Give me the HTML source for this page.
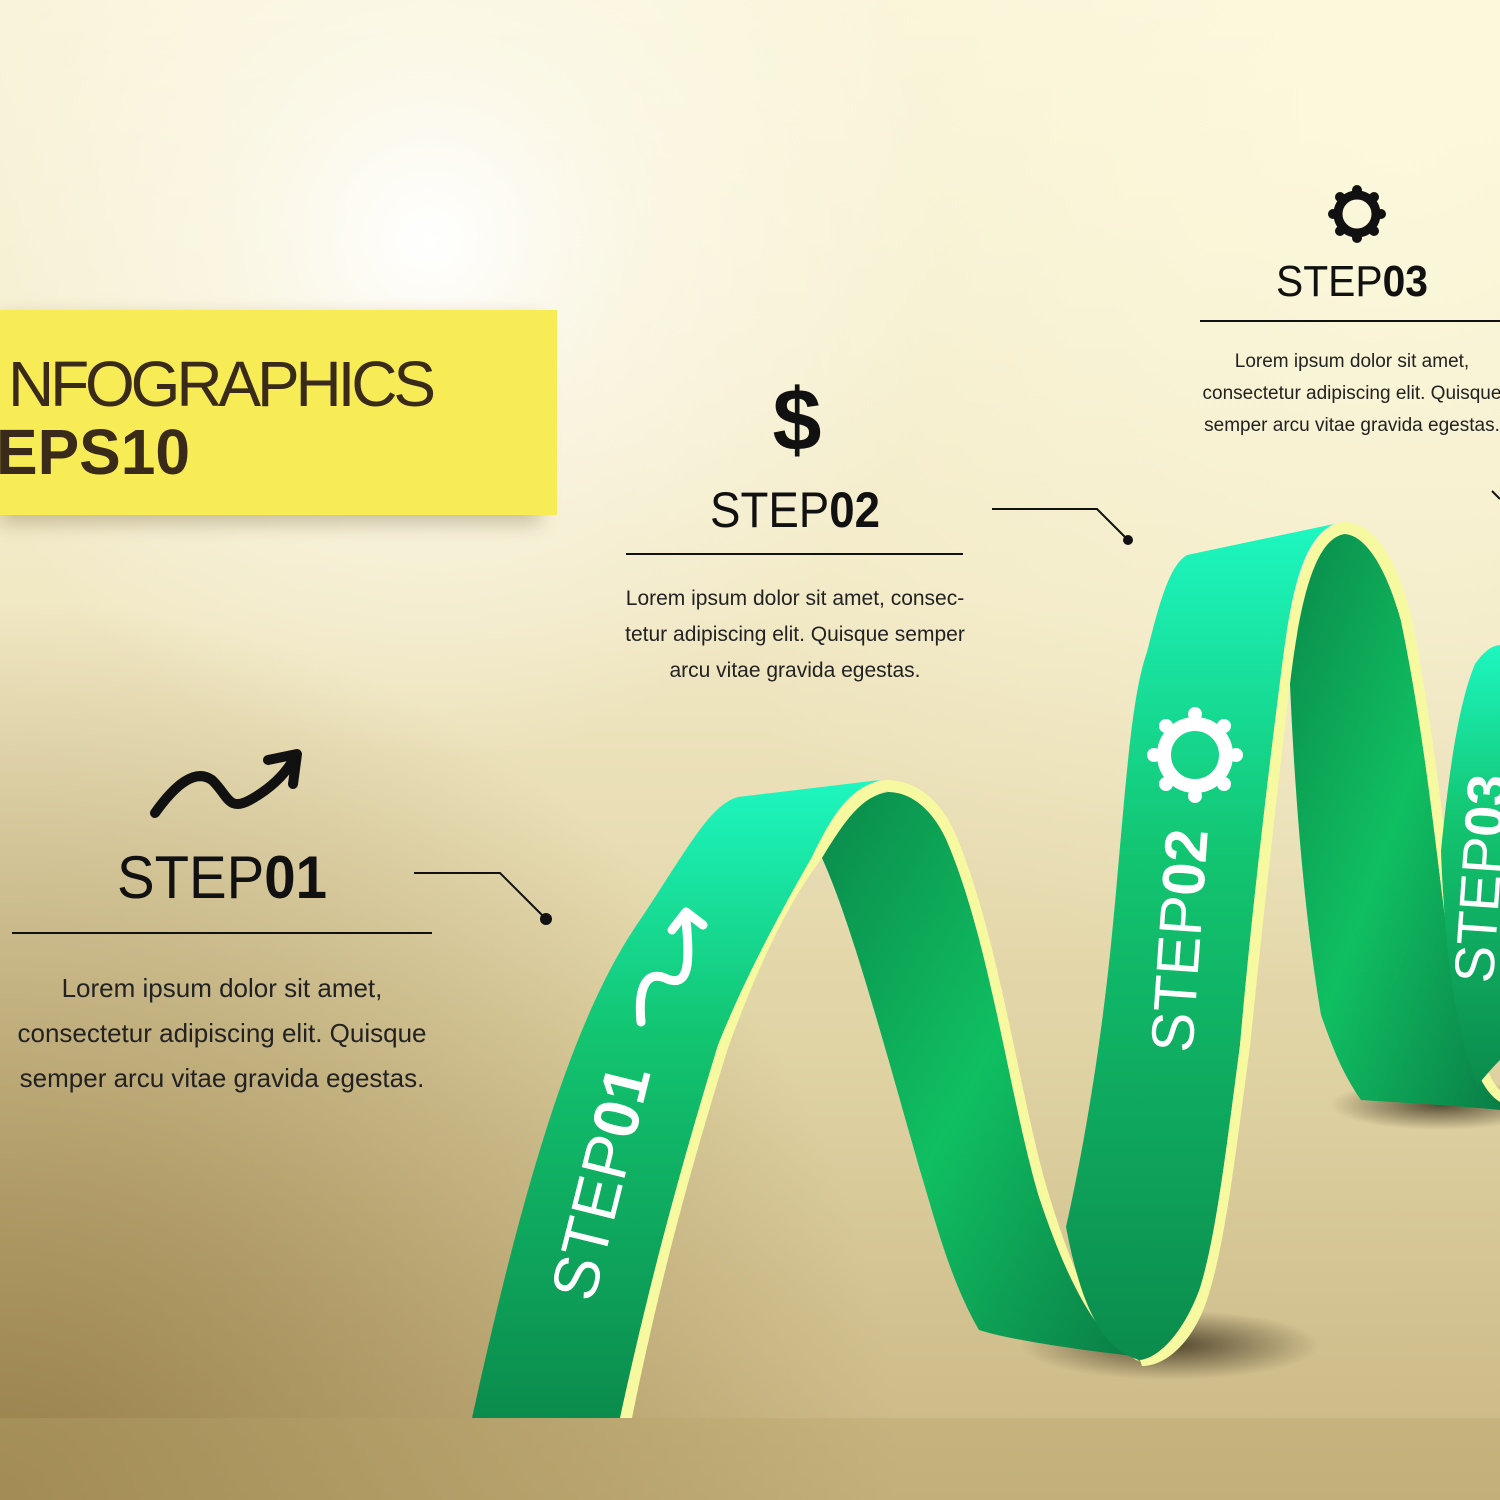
<!DOCTYPE html>
<html><head><meta charset="utf-8"><style>
html,body{margin:0;padding:0;width:1500px;height:1500px;overflow:hidden}
svg{display:block}
text{font-family:"Liberation Sans",sans-serif}
</style></head><body>
<svg width="1500" height="1500" viewBox="0 0 1500 1500" xmlns="http://www.w3.org/2000/svg">
<defs>
<linearGradient id="bg" x1="0" y1="0" x2="0" y2="1">
<stop offset="0" stop-color="#f8f3d8"/>
<stop offset="0.4" stop-color="#f1e8c4"/>
<stop offset="0.7" stop-color="#e0d3a4"/>
<stop offset="1" stop-color="#c9b683"/>
</linearGradient>
<radialGradient id="glow" cx="430" cy="240" r="520" gradientUnits="userSpaceOnUse">
<stop offset="0" stop-color="#ffffff" stop-opacity="1"/>
<stop offset="0.4" stop-color="#fdfbf0" stop-opacity="0.6"/>
<stop offset="1" stop-color="#fdfbf0" stop-opacity="0"/>
</radialGradient>
<radialGradient id="darkBL" cx="0" cy="1500" r="900" gradientUnits="userSpaceOnUse">
<stop offset="0" stop-color="#8f7640" stop-opacity="0.85"/>
<stop offset="1" stop-color="#8f7640" stop-opacity="0"/>
</radialGradient>
<radialGradient id="bgTR" cx="1400" cy="100" r="900" gradientUnits="userSpaceOnUse">
<stop offset="0" stop-color="#fdfade" stop-opacity="1"/>
<stop offset="1" stop-color="#fdfade" stop-opacity="0"/>
</radialGradient>
<linearGradient id="front" x1="0" y1="0" x2="0" y2="1">
<stop offset="0" stop-color="#1df7c0"/>
<stop offset="0.4" stop-color="#12c470"/>
<stop offset="1" stop-color="#0b8c4c"/>
</linearGradient>
<linearGradient id="inner" x1="0" y1="0" x2="1" y2="1">
<stop offset="0" stop-color="#0a8a4a"/>
<stop offset="0.5" stop-color="#10bf62"/>
<stop offset="1" stop-color="#0a7e46"/>
</linearGradient>
<radialGradient id="shadow"><stop offset="0" stop-color="#2a2010" stop-opacity="0.75"/><stop offset="1" stop-color="#2a2010" stop-opacity="0"/></radialGradient>
<filter id="blur"><feGaussianBlur stdDeviation="10"/></filter>
</defs>
<rect width="1500" height="1500" fill="url(#bg)"/>
<rect width="1500" height="1500" fill="url(#darkBL)"/>
<rect width="1500" height="1500" fill="url(#bgTR)" opacity="0.8"/>
<rect width="1500" height="1500" fill="url(#glow)"/>
<rect x="0" y="1418" width="1500" height="82" fill="#b8a26a" opacity="0.35"/>

<!-- title box -->
<rect x="0" y="318" width="540" height="205" fill="#6b5a30" opacity="0.35" filter="url(#blur)"/>
<rect x="0" y="310" width="557" height="205" fill="#f7ec55"/>
<text x="8" y="406" font-size="64" fill="#3a2a1a" textLength="428" lengthAdjust="spacing">NFOGRAPHICS</text>
<text x="-4" y="474" font-size="64" fill="#3a2a1a" font-weight="bold" textLength="194" lengthAdjust="spacingAndGlyphs">EPS10</text>

<!-- shadows -->
<ellipse cx="1170" cy="1345" rx="150" ry="35" fill="url(#shadow)"/>
<ellipse cx="1440" cy="1105" rx="110" ry="25" fill="url(#shadow)"/>

<!-- ribbon 1 front -->
<path d="M472,1418 C520,1200 570,1020 640,920 C690,845 710,805 738,797 L880,780 C850,790 830,820 812,857 C770,930 740,990 718,1045 C680,1170 650,1280 620,1418 Z" fill="url(#front)"/>
<path d="M888,780 C850,782 830,820 812,857 C770,930 740,990 718,1045 C680,1170 650,1280 620,1418 L632,1418 C660,1280 690,1170 728,1048 C760,960 790,900 822,858 C840,828 860,800 888,790 Z" fill="#f7f9a0"/>
<!-- inner descending face 1 -->
<path d="M822,858 C845,820 862,796 888,792 C915,792 935,815 946,839 C990,940 1010,1100 1039,1197 C1070,1290 1100,1340 1133,1356 C1080,1350 1010,1340 979,1330 C950,1280 935,1220 919,1167 C880,1030 850,920 822,858 Z" fill="url(#inner)"/>
<path d="M888,780 C925,782 945,810 956,835 C1000,940 1020,1100 1049,1195 C1075,1280 1105,1345 1140,1362 L1133,1356 C1100,1340 1070,1290 1039,1197 C1010,1100 990,940 946,839 C935,815 915,792 888,792 Z" fill="#f7f9a0"/>

<!-- ribbon 2 front -->
<path d="M1066,1227 C1090,1120 1105,1010 1113,924 C1125,800 1130,700 1147,652 C1160,600 1170,565 1187,555 L1334,524 C1300,540 1290,600 1280,682 C1265,800 1250,930 1240,1045 C1225,1160 1215,1240 1200,1288 C1185,1330 1160,1358 1140,1360 C1100,1350 1080,1300 1066,1227 Z" fill="url(#front)"/>
<path d="M1345,522 C1305,525 1290,600 1280,682 C1265,800 1250,930 1240,1045 C1225,1160 1215,1240 1200,1288 C1185,1330 1160,1358 1140,1360 L1142,1366 C1170,1366 1198,1335 1210,1290 C1225,1240 1235,1160 1250,1046 C1262,930 1276,800 1290,684 C1300,600 1315,540 1345,534 Z" fill="#f7f9a0"/>
<!-- inner descending face 2 -->
<path d="M1290,684 C1300,600 1315,538 1345,534 C1370,536 1390,580 1401,621 C1430,760 1440,900 1455,985 C1465,1050 1480,1090 1500,1102 L1500,1110 C1450,1105 1390,1102 1361,1100 C1340,1070 1330,1040 1321,1015 C1305,920 1295,800 1290,684 Z" fill="url(#inner)"/>
<path d="M1345,522 C1380,524 1400,570 1412,620 C1440,760 1450,900 1465,985 C1475,1040 1488,1080 1500,1090 L1500,1102 C1480,1090 1465,1050 1455,985 C1440,900 1430,760 1401,621 C1390,580 1370,536 1345,534 Z" fill="#f7f9a0"/>
<!-- ribbon 3 -->
<path d="M1441,851 C1450,760 1460,700 1475,664 C1485,650 1492,646 1500,645 L1500,1060 C1490,1070 1482,1080 1478,1085 C1458,1040 1445,960 1441,851 Z" fill="url(#front)"/>

<!-- ribbon text -->
<text transform="translate(622,1188) rotate(-76)" text-anchor="middle" font-size="64" fill="#ffffff"><tspan>STEP</tspan><tspan font-weight="bold">01</tspan></text>
<text transform="translate(1200,942) rotate(-86)" text-anchor="middle" font-size="60" fill="#ffffff"><tspan>STEP</tspan><tspan font-weight="bold">02</tspan></text>
<text transform="translate(1500,880) rotate(-86)" text-anchor="middle" font-size="56" fill="#ffffff"><tspan>STEP</tspan><tspan font-weight="bold">03</tspan></text>
<path d="M641,1022 C638,990 645,970 665,978 C690,990 690,960 686,920 M672,930 L686,912 L703,925" fill="none" stroke="#fff" stroke-width="9" stroke-linecap="round" stroke-linejoin="round"/>
<g transform="translate(1195,755)">
<circle r="31" fill="none" stroke="#fff" stroke-width="14"/>
<g fill="#fff"><circle cx="0" cy="-41" r="7"/><circle cx="29" cy="-29" r="7"/><circle cx="41" cy="0" r="7"/><circle cx="29" cy="29" r="7"/><circle cx="0" cy="41" r="7"/><circle cx="-29" cy="29" r="7"/><circle cx="-41" cy="0" r="7"/><circle cx="-29" cy="-29" r="7"/></g>
</g>

<!-- step 01 -->
<path d="M155,813 C175,785 195,768 212,780 C228,795 228,812 250,800 C268,790 282,778 292,762 M268,760 L297,754 L293,784" fill="none" stroke="#111" stroke-width="10" stroke-linecap="round" stroke-linejoin="round"/>
<text x="222" y="898" text-anchor="middle" font-size="60" fill="#111" textLength="210" lengthAdjust="spacingAndGlyphs"><tspan>STEP</tspan><tspan font-weight="bold">01</tspan></text>
<line x1="12" y1="933" x2="432" y2="933" stroke="#111" stroke-width="2"/>
<g font-size="26" fill="#222" text-anchor="middle">
<text x="222" y="997">Lorem ipsum dolor sit amet,</text>
<text x="222" y="1042">consectetur adipiscing elit. Quisque</text>
<text x="222" y="1087">semper arcu vitae gravida egestas.</text>
</g>
<polyline points="414,873 500,873 546,919" fill="none" stroke="#111" stroke-width="2"/>
<circle cx="546" cy="919" r="6" fill="#111"/>

<!-- step 02 -->
<text x="797" y="450" text-anchor="middle" font-size="88" font-weight="bold" fill="#111">$</text>
<text x="795" y="527" text-anchor="middle" font-size="50" fill="#111" textLength="170" lengthAdjust="spacingAndGlyphs"><tspan>STEP</tspan><tspan font-weight="bold">02</tspan></text>
<line x1="626" y1="554" x2="963" y2="554" stroke="#111" stroke-width="2"/>
<g font-size="21" fill="#222" text-anchor="middle">
<text x="795" y="605">Lorem ipsum dolor sit amet, consec-</text>
<text x="795" y="641">tetur adipiscing elit. Quisque semper</text>
<text x="795" y="677">arcu vitae gravida egestas.</text>
</g>
<polyline points="992,509 1097,509 1128,540" fill="none" stroke="#111" stroke-width="2"/>
<circle cx="1128" cy="540" r="5" fill="#111"/>

<!-- step 03 -->
<g transform="translate(1357,214)">
<circle r="19" fill="none" stroke="#111" stroke-width="9"/>
<g fill="#111"><circle cx="0" cy="-24" r="5"/><circle cx="17" cy="-17" r="5"/><circle cx="24" cy="0" r="5"/><circle cx="17" cy="17" r="5"/><circle cx="0" cy="24" r="5"/><circle cx="-17" cy="17" r="5"/><circle cx="-24" cy="0" r="5"/><circle cx="-17" cy="-17" r="5"/></g>
</g>
<text x="1352" y="296" text-anchor="middle" font-size="44" fill="#111" textLength="152" lengthAdjust="spacingAndGlyphs"><tspan>STEP</tspan><tspan font-weight="bold">03</tspan></text>
<line x1="1200" y1="321" x2="1500" y2="321" stroke="#111" stroke-width="2"/>
<g font-size="19" fill="#222" text-anchor="middle">
<text x="1352" y="367">Lorem ipsum dolor sit amet,</text>
<text x="1352" y="399">consectetur adipiscing elit. Quisque</text>
<text x="1352" y="431">semper arcu vitae gravida egestas.</text>
</g>
<line x1="1492" y1="491" x2="1500" y2="499" stroke="#111" stroke-width="2"/>
</svg>
</body></html>
